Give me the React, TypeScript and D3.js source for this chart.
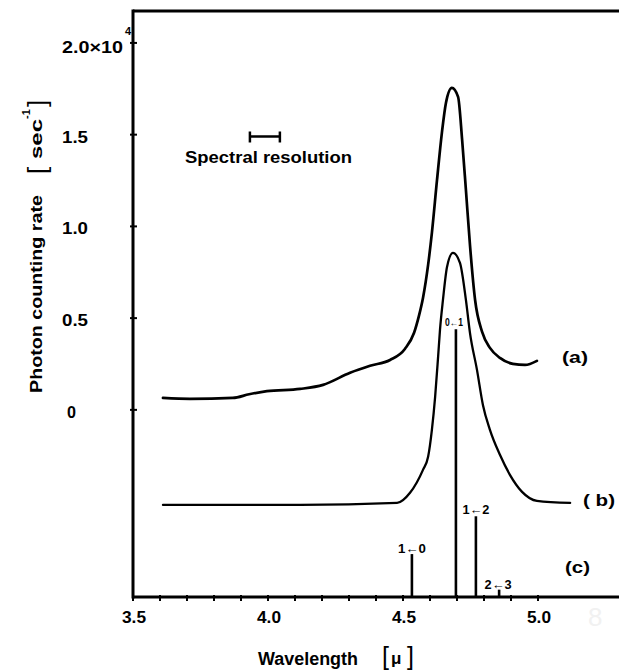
import React from 'react';
import * as d3 from 'd3';

// ---------- data ----------
const xMajorTicks = [3.5, 4.0, 4.5, 5.0];
const xMajorLabels = ['3.5', '4.0', '4.5', '5.0'];
const xMinorTicks = [3.6, 3.7, 3.8, 3.9, 4.1, 4.2, 4.3, 4.4, 4.6, 4.7, 4.8, 4.9];
const yTicks = [0, 0.5, 1.0, 1.5, 2.0];
const yTickLabels = ['0', '0.5', '1.0', '1.5', '2.0×10'];

// curve (a): wavelength [µ], counting rate [10^4 s^-1]
const curveAWave = [3.611, 3.711, 3.870, 3.930, 3.996, 4.119, 4.204, 4.304, 4.378, 4.452, 4.507, 4.541, 4.559, 4.574, 4.593, 4.607, 4.626, 4.644, 4.659, 4.681, 4.704, 4.719, 4.733, 4.748, 4.767, 4.793, 4.822, 4.859, 4.907, 4.952, 4.996];
const curveAValue = [0.065, 0.060, 0.065, 0.085, 0.102, 0.114, 0.136, 0.202, 0.240, 0.272, 0.332, 0.420, 0.512, 0.610, 0.790, 0.965, 1.253, 1.510, 1.673, 1.755, 1.706, 1.471, 1.199, 0.899, 0.599, 0.425, 0.338, 0.283, 0.251, 0.245, 0.267];

// curve (b): offset below zero
const curveBWave = [3.611, 4.119, 4.478, 4.526, 4.574, 4.593, 4.607, 4.619, 4.630, 4.637, 4.648, 4.663, 4.685, 4.711, 4.733, 4.748, 4.774, 4.796, 4.822, 4.859, 4.896, 4.941, 4.996, 5.119];
const curveBValue = [-0.518, -0.518, -0.507, -0.452, -0.327, -0.256, -0.109, 0.071, 0.289, 0.436, 0.599, 0.779, 0.856, 0.801, 0.599, 0.420, 0.218, 0.027, -0.109, -0.245, -0.354, -0.447, -0.496, -0.507];

// (c) stick spectrum: wavelength, height above the bottom axis
const stickWave = [4.533, 4.696, 4.770, 4.856];
const stickHeight = [0.234, 1.46, 0.44, 0.04];
const stickLabels = ['1←0', '0←1', '1←2', '2←3'];

const curveLabels = ['(a)', '( b)', '(c)'];
const resolutionRange = [3.933, 4.044];
const resolutionLevel = 1.49;

// ---------- layout ----------
const W = 619;
const H = 671;
const left = 133;
const top = 11;
const bottom = 597;
const FONT = '"Liberation Sans", Arial, sans-serif';

export default function App() {
  const x = d3.scaleLinear().domain([3.5, 5.0]).range([left, 538]);
  const y = d3.scaleLinear().domain([-1.02, 2.174]).range([bottom, top]);
  const baseVal = y.domain()[0];

  const line = d3
    .line<[number, number]>()
    .x((d) => x(d[0]))
    .y((d) => y(d[1]))
    .curve(d3.curveMonotoneX);

  const aPts = curveAWave.map((w, i) => [w, curveAValue[i]] as [number, number]);
  const bPts = curveBWave.map((w, i) => [w, curveBValue[i]] as [number, number]);

  const stickLabelStyle = [
    { dx: 0, dy: -1, size: 13, len: 28 },
    { dx: -2, dy: -3, size: 10, len: 18 },
    { dx: 0, dy: -2, size: 13, len: 27 },
    { dx: -1, dy: -1, size: 13, len: 27 },
  ];

  return (
    <svg
      width={W}
      height={H}
      style={{ position: 'absolute', left: 0, top: 0, background: '#fff' }}
      fontFamily={FONT}
      fontWeight="bold"
    >
      <rect x={0} y={0} width={W} height={H} fill="#fff" />

      {/* frame: left, top, bottom */}
      <line x1={left} y1={top} x2={W} y2={top} stroke="#000" strokeWidth={3} />
      <line x1={left} y1={top - 1.5} x2={left} y2={bottom + 1.5} stroke="#000" strokeWidth={3} />
      <line x1={left} y1={bottom} x2={W} y2={bottom} stroke="#000" strokeWidth={3} />

      {/* x ticks */}
      {xMajorTicks.concat(xMinorTicks).map((t, i) => (
        <line key={'xt' + i} x1={x(t)} x2={x(t)} y1={bottom - 2} y2={bottom + 4} stroke="#000" strokeWidth={2} />
      ))}
      {xMajorTicks.map((t, i) => (
        <text key={'xl' + i} x={x(t) + 1} y={623} textAnchor="middle" fontSize={17} textLength={24} lengthAdjust="spacingAndGlyphs">
          {xMajorLabels[i]}
        </text>
      ))}

      {/* y ticks */}
      {yTicks.map((t, i) => (
        <line key={'yt' + i} x1={left - 3} x2={left + 4} y1={y(t)} y2={y(t)} stroke="#000" strokeWidth={2} />
      ))}
      {yTicks.map((t, i) => {
        const lab = yTickLabels[i];
        const isZero = lab === '0';
        const isTop = i === yTicks.length - 1;
        return (
          <text
            key={'yl' + i}
            x={isZero ? 67 : 62}
            y={y(t) + (isTop ? 10 : 8)}
            fontSize={17}
            textLength={isTop ? 61 : isZero ? 9 : 26}
            lengthAdjust="spacingAndGlyphs"
          >
            {lab}
          </text>
        );
      })}
      <text x={125} y={35} fontSize={11}>4</text>

      {/* axis titles */}
      <text x={258} y={665} fontSize={18} textLength={100} lengthAdjust="spacingAndGlyphs">Wavelength</text>
      <text x={382} y={665} fontSize={25} fontWeight="normal">[</text>
      <text x={391} y={664} fontSize={17}>μ</text>
      <text x={407} y={665} fontSize={25} fontWeight="normal">]</text>

      <g transform="translate(42,393) rotate(-90)">
        <text x={0} y={0} fontSize={17} textLength={198} lengthAdjust="spacingAndGlyphs">Photon counting rate</text>
        <text x={219} y={4} fontSize={26} fontWeight="normal">[</text>
        <text x={234} y={0} fontSize={16} textLength={40} lengthAdjust="spacingAndGlyphs">sec</text>
        <text x={274} y={-12} fontSize={11}>-1</text>
        <text x={286} y={4} fontSize={26} fontWeight="normal">]</text>
      </g>

      {/* spectral resolution */}
      <line x1={x(resolutionRange[0])} x2={x(resolutionRange[1])} y1={y(resolutionLevel)} y2={y(resolutionLevel)} stroke="#000" strokeWidth={2.5} />
      {resolutionRange.map((r, i) => (
        <line key={'rr' + i} x1={x(r)} x2={x(r)} y1={y(resolutionLevel) - 5} y2={y(resolutionLevel) + 6} stroke="#000" strokeWidth={2.5} />
      ))}
      <text x={185} y={163} fontSize={17} textLength={167} lengthAdjust="spacingAndGlyphs">Spectral resolution</text>

      {/* curves */}
      <path d={line(aPts) || ''} fill="none" stroke="#000" strokeWidth={2.7} strokeLinejoin="round" strokeLinecap="round" />
      <path d={line(bPts) || ''} fill="none" stroke="#000" strokeWidth={2.3} strokeLinejoin="round" strokeLinecap="round" />

      {/* sticks (c) */}
      {stickWave.map((w, i) => (
        <line key={'st' + i} x1={x(w)} x2={x(w)} y1={y(baseVal)} y2={y(baseVal + stickHeight[i])} stroke="#000" strokeWidth={2.6} />
      ))}
      {stickWave.map((w, i) => (
        <text
          key={'sl' + i}
          x={x(w) + stickLabelStyle[i].dx}
          y={y(baseVal + stickHeight[i]) + stickLabelStyle[i].dy}
          textAnchor="middle"
          fontSize={stickLabelStyle[i].size}
          textLength={stickLabelStyle[i].len}
          lengthAdjust="spacingAndGlyphs"
        >
          {stickLabels[i]}
        </text>
      ))}

      {/* curve labels */}
      <text x={562} y={363} fontSize={17} textLength={26} lengthAdjust="spacingAndGlyphs">{curveLabels[0]}</text>
      <text x={583} y={506} fontSize={17} textLength={32} lengthAdjust="spacingAndGlyphs">{curveLabels[1]}</text>
      <text x={565} y={573} fontSize={17} textLength={25} lengthAdjust="spacingAndGlyphs">{curveLabels[2]}</text>

      {/* faint page mark */}
      <text x={588} y={626} fontSize={26} fontWeight="normal" fill="#f1f1f1">8</text>
    </svg>
  );
}
